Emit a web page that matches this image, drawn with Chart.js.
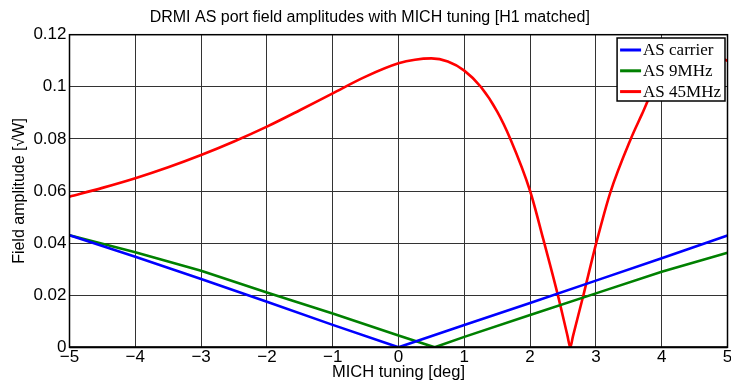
<!DOCTYPE html>
<html>
<head>
<meta charset="utf-8">
<script src="https://cdn.jsdelivr.net/npm/chart.js@4"></script>
<style>
  html, body { margin: 0; padding: 0; background: #fff; }
  #wrap { width: 731px; height: 385px; }
</style>
</head>
<body>
<div id="wrap"><canvas id="chart" width="731" height="385"></canvas></div>
<script>
// values
const carrierX = [-5, -4, -3, -2, -1, 0, 1, 2, 3, 4, 5];
const carrierY = [0.043, 0.0348, 0.0262, 0.0175, 0.0086, 0, 0.0086, 0.017, 0.0256, 0.0342, 0.0429];

const sb9X = [-5, -4, -3, -2, -1, 0, 0.55, 1, 2, 3, 4, 5];
const sb9Y = [0.043, 0.0365, 0.0294, 0.021, 0.013, 0.0045, 0, 0.004, 0.0124, 0.0207, 0.029, 0.0363];

const sb45X = [-5, -4.5, -4, -3.5, -3, -2.5, -2, -1.5, -1, -0.5, 0, 0.25, 0.5, 0.75, 1, 1.25, 1.5, 1.7,
  2, 2.2, 2.42, 2.57, 2.61, 2.65, 2.81, 3, 3.22, 3.53, 3.7, 3.88, 4.1, 4.35, 4.6, 4.8, 5];
const sb45Y = [0.0578, 0.0612, 0.0649, 0.0691, 0.0738, 0.079, 0.0847, 0.091, 0.0975, 0.1039, 0.109, 0.1104,
  0.1109, 0.1097, 0.1062, 0.1, 0.0905, 0.08, 0.06, 0.0415, 0.0202, 0.0042, 0, 0.0041, 0.02, 0.0395,
  0.0595, 0.08, 0.0895, 0.0995, 0.1065, 0.111, 0.1125, 0.112, 0.11];

const seriesNames = ['AS carrier', 'AS 9MHz', 'AS 45MHz'];
const seriesColors = ['#0000ff', '#008000', '#ff0000'];

const xTicks = [-5, -4, -3, -2, -1, 0, 1, 2, 3, 4, 5];
const xTickLabels = ['\u22125', '\u22124', '\u22123', '\u22122', '\u22121', '0', '1', '2', '3', '4', '5'];
const yTicks = [0, 0.02, 0.04, 0.06, 0.08, 0.1, 0.12];
const yTickLabels = ['0', '0.02', '0.04', '0.06', '0.08', '0.1', '0.12'];

const toPoints = (xs, ys) => xs.map((x, i) => ({ x: x, y: ys[i] }));

const sans = 'Liberation Sans, Arial, sans-serif';

// legend box drawn inside the plot, top right, above the curves
const boxLegend = {
  id: 'boxLegend',
  afterDatasetsDraw(chart) {
    const ctx = chart.ctx;
    const area = chart.chartArea;
    ctx.save();
    ctx.font = '17px "Liberation Serif", "Times New Roman", serif';
    let maxW = 0;
    chart.data.datasets.forEach(ds => { maxW = Math.max(maxW, ctx.measureText(ds.label).width); });
    const w = 3 + 21 + 2 + maxW + 4;
    const h = 63;
    const left = area.right - 2.5 - w;
    const top = area.top + 3.3;
    ctx.fillStyle = '#fff';
    ctx.fillRect(left, top, w, h);
    ctx.strokeStyle = '#000';
    ctx.lineWidth = 1.5;
    ctx.strokeRect(left, top, w, h);
    ctx.textBaseline = 'middle';
    chart.data.datasets.forEach((ds, i) => {
      const y = top + 12 + i * 20.8;
      ctx.strokeStyle = ds.borderColor;
      ctx.lineWidth = 3;
      ctx.beginPath();
      ctx.moveTo(left + 3, y);
      ctx.lineTo(left + 24, y);
      ctx.stroke();
      ctx.fillStyle = '#000';
      ctx.fillText(ds.label, left + 26, y + 1);
    });
    ctx.restore();
  },
  afterDraw(chart) {
    // axes box
    const ctx = chart.ctx;
    const a = chart.chartArea;
    ctx.save();
    ctx.strokeStyle = '#000';
    ctx.lineWidth = 1.5;
    ctx.strokeRect(a.left, a.top, a.right - a.left, a.bottom - a.top);
    ctx.lineWidth = 2;
    ctx.beginPath();
    ctx.moveTo(a.left, a.bottom);
    ctx.lineTo(a.right, a.bottom);
    ctx.stroke();
    ctx.restore();
  }
};

const datasets = [carrierX, sb9X, sb45X].map((xs, i) => ({
  label: seriesNames[i],
  data: toPoints(xs, [carrierY, sb9Y, sb45Y][i]),
  borderColor: seriesColors[i],
  backgroundColor: seriesColors[i],
  borderWidth: 2.6,
  pointRadius: 0,
  tension: 0,
  cubicInterpolationMode: i === 2 ? 'monotone' : 'default',
  fill: false
}));

new Chart(document.getElementById('chart').getContext('2d'), {
  type: 'line',
  data: { datasets: datasets },
  options: {
    responsive: false,
    animation: false,
    layout: { padding: { left: 12, right: 3.5, top: 0, bottom: 0 } },
    plugins: {
      legend: { display: false },
      tooltip: { enabled: false },
      title: {
        display: true,
        text: 'DRMI AS port field amplitudes with MICH tuning [H1 matched]',
        color: '#000',
        font: { family: sans, size: 16, weight: 'normal' },
        padding: { top: 8, bottom: 7.5 }
      }
    },
    scales: {
      x: {
        type: 'linear',
        min: -5,
        max: 5,
        afterBuildTicks: (scale) => { scale.ticks = xTicks.map(v => ({ value: v })); },
        afterFit: (scale) => { scale.height = 37.7; scale.paddingLeft = 0; scale.paddingRight = 0; },
        ticks: {
          color: '#000',
          font: { family: sans, size: 17 },
          padding: 0,
          maxRotation: 0,
          callback: (v, i) => xTickLabels[i]
        },
        grid: { color: '#333', lineWidth: 1, drawTicks: false },
        border: { display: false },
        title: {
          display: true,
          text: 'MICH tuning [deg]',
          color: '#000',
          font: { family: sans, size: 16.5 },
          padding: { top: 0, bottom: 2.4 }
        }
      },
      y: {
        min: 0,
        max: 0.12,
        afterBuildTicks: (scale) => { scale.ticks = yTicks.map(v => ({ value: v })); },
        afterFit: (scale) => { scale.width = 57.5; scale.paddingTop = 0; scale.paddingBottom = 0; },
        ticks: {
          color: '#000',
          font: { family: sans, size: 17 },
          padding: 3,
          callback: (v, i) => yTickLabels[i]
        },
        grid: { color: '#333', lineWidth: 1, drawTicks: false },
        border: { display: false },
        title: {
          display: true,
          text: 'Field amplitude [\u221AW]',
          color: '#000',
          font: { family: sans, size: 16 },
          padding: { top: -2.4, bottom: 0 }
        }
      }
    }
  },
  plugins: [boxLegend]
});
</script>
</body>
</html>
